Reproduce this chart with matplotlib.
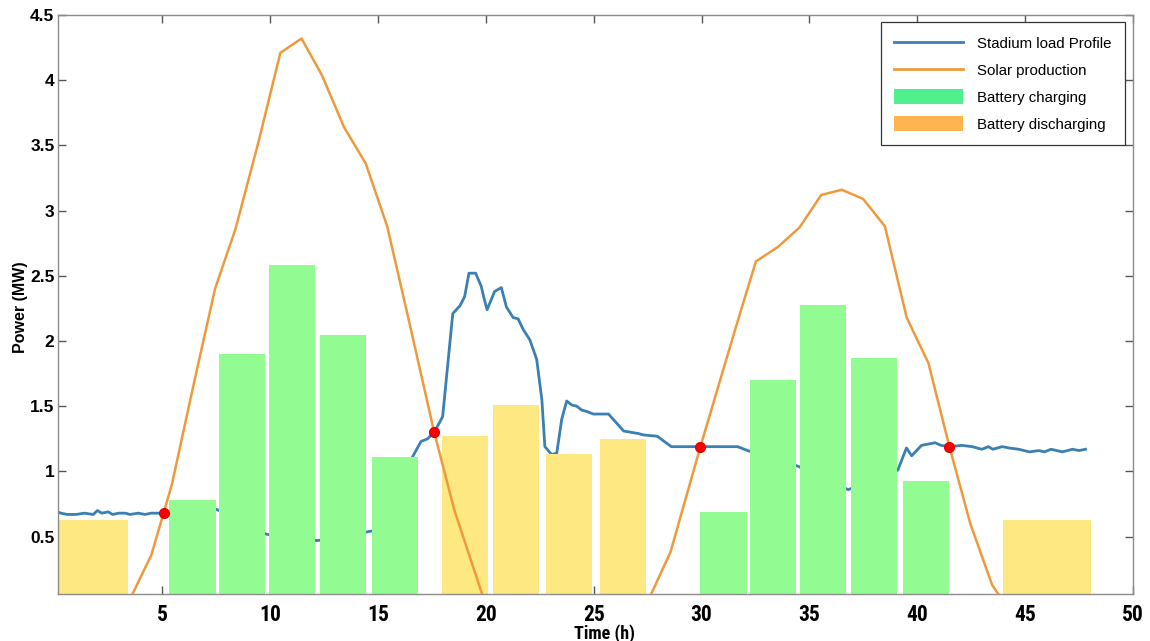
import matplotlib
matplotlib.use("Agg")
import matplotlib.pyplot as plt
from matplotlib.lines import Line2D
from matplotlib.patches import Patch

# Stadium load profile (MW) over time (h)
load_t = [0.17, 0.3, 0.6, 1.0, 1.4, 1.8, 2.0, 2.2, 2.5, 2.7, 3.0, 3.3, 3.5, 3.9, 4.2,
          4.5, 5.08, 6.0, 7.5, 8.5, 9.8, 11.0, 12.2, 13.5, 14.6, 15.5, 16.6, 17.0,
          17.3, 17.61, 18.0, 18.47, 18.8, 19.02, 19.22, 19.53, 19.79, 19.9, 20.06,
          20.41, 20.72, 20.96, 21.27, 21.5, 21.73, 22.04, 22.36, 22.6, 22.74, 23.05,
          23.29, 23.52, 23.75, 23.98, 24.22, 24.45, 24.68, 24.99, 25.69, 26.39,
          27.09, 27.3, 27.95, 28.6, 29.95, 30.74, 31.1, 31.67, 32.3, 34.47, 36.8,
          39.1, 39.5, 39.74, 40.2, 40.83, 41.1, 41.49, 42.07, 42.54, 43.0, 43.3,
          43.5, 43.94, 44.25, 44.7, 45.2, 45.64, 45.9, 46.2, 46.73, 47.2, 47.5, 47.8]
load_p = [0.69, 0.68, 0.67, 0.67, 0.68, 0.67, 0.70, 0.68, 0.69, 0.67, 0.68, 0.68,
          0.67, 0.68, 0.67, 0.68, 0.68, 0.70, 0.71, 0.64, 0.52, 0.48, 0.47, 0.50,
          0.54, 0.56, 1.11, 1.23, 1.25, 1.30, 1.42, 2.21, 2.27, 2.34, 2.52, 2.52,
          2.42, 2.34, 2.24, 2.38, 2.41, 2.26, 2.18, 2.17, 2.09, 2.01, 1.86, 1.55,
          1.19, 1.13, 1.14, 1.40, 1.54, 1.51, 1.50, 1.47, 1.46, 1.44, 1.44, 1.31,
          1.29, 1.28, 1.27, 1.19, 1.19, 1.19, 1.19, 1.19, 1.15, 1.04, 0.86, 1.01,
          1.18, 1.12, 1.20, 1.22, 1.20, 1.19, 1.20, 1.19, 1.17, 1.19, 1.17, 1.19,
          1.18, 1.17, 1.15, 1.16, 1.15, 1.17, 1.15, 1.17, 1.16, 1.17]

# Solar production (MW)
solar_t = [0.0, 3.45, 4.5, 5.45, 6.45, 7.45, 8.4, 9.47, 10.48, 11.46, 12.4, 13.43,
           14.44, 15.43, 16.46, 17.61, 18.55, 19.95, 27.5, 28.56, 29.95, 31.6,
           32.52, 33.53, 34.54, 35.55, 36.5, 37.49, 38.5, 39.51, 40.52, 41.49,
           42.46, 43.47, 44.0, 48.0]
solar_p = [0.0, 0.0, 0.36, 0.90, 1.66, 2.40, 2.86, 3.53, 4.21, 4.32, 4.04, 3.64,
           3.36, 2.88, 2.14, 1.30, 0.70, 0.0, 0.0, 0.38, 1.19, 2.11, 2.61, 2.72,
           2.87, 3.12, 3.16, 3.09, 2.88, 2.18, 1.83, 1.19, 0.60, 0.13, 0.0, 0.0]

# Battery charging blocks (centre hour, width, MW)
charge_t = [6.41, 8.69, 11.02, 13.38, 15.81, 31.02, 33.30, 35.64, 38.00, 40.42]
charge_w = [2.14] * 10
charge_p = [0.78, 1.90, 2.58, 2.05, 1.11, 0.69, 1.70, 2.28, 1.87, 0.93]

# Battery discharging blocks (centre hour, width, MW)
discharge_t = [1.82, 19.04, 21.42, 23.84, 26.36, 46.01]
discharge_w = [3.22, 2.14, 2.14, 2.14, 2.14, 4.09]
discharge_p = [0.63, 1.27, 1.51, 1.13, 1.25, 0.63]

# Load / solar crossing points
cross_t = [5.08, 17.61, 29.95, 41.49]
cross_p = [0.68, 1.30, 1.19, 1.19]

x_ticks = [5, 10, 15, 20, 25, 30, 35, 40, 45, 50]
y_ticks = [0.5, 1, 1.5, 2, 2.5, 3, 3.5, 4, 4.5]
y_ticklabels = ["0.5", "1", "1.5", "2", "2.5", "3", "3.5", "4", "4.5"]

blue = "#3A80B2"
orange = "#EE9A3C"
bar_green = "#92FC92"
bar_yellow = "#FDE882"
leg_green = "#50F08E"
leg_orange = "#FFB452"
spine_col = "#8C8C8C"

sans = ["Liberation Sans", "DejaVu Sans"]
narrow = ["Roboto Condensed", "Liberation Sans Narrow", "DejaVu Sans"]

fig = plt.figure(figsize=(11.5, 6.41), dpi=100)
ax = fig.add_axes([0.0504, 0.0733, 0.9348, 0.9033])

ax.plot(load_t, load_p, color=blue, lw=2.0, zorder=1)
ax.bar(charge_t, charge_p, width=charge_w, color=bar_green, zorder=2)
ax.bar(discharge_t, discharge_p, width=discharge_w, color=bar_yellow, zorder=2)
ax.plot(solar_t, solar_p, color=orange, lw=1.8, zorder=3)
ax.plot(cross_t, cross_p, "o", color="#FF0000", ms=7, mec="#E00000", zorder=4)

ax.set_xlim(0.17, 50)
ax.set_ylim(0.06, 4.5)
ax.set_xticks(x_ticks)
ax.set_yticks(y_ticks)
ax.set_yticklabels(y_ticklabels)

for s in ax.spines.values():
    s.set_color(spine_col)
    s.set_linewidth(1.0)
ax.tick_params(direction="in", length=6, width=1, color="#555555",
               top=True, right=True)
ax.tick_params(axis="x", pad=7)
ax.tick_params(axis="y", pad=2.5)

for lab in ax.get_xticklabels():
    lab.set_fontfamily(narrow)
    lab.set_fontstretch("condensed")
    lab.set_fontweight("bold")
    lab.set_fontsize(15.5)
for lab in ax.get_yticklabels():
    lab.set_fontfamily(sans)
    lab.set_fontweight("bold")
    lab.set_fontsize(12.5)

ax.set_xlabel("Time (h)", fontfamily=narrow, fontstretch="condensed",
              fontweight="bold", fontsize=13)
ax.xaxis.set_label_coords(0.508, -0.052)
ax.set_ylabel("Power (MW)", fontfamily=sans, fontweight="bold", fontsize=11.5)
ax.yaxis.set_label_coords(-0.028, 0.495)

handles = [
    Line2D([], [], color=blue, lw=2),
    Line2D([], [], color=orange, lw=2),
    Patch(facecolor=leg_green, edgecolor="none"),
    Patch(facecolor=leg_orange, edgecolor="none"),
]
labels = ["Stadium load Profile", "Solar production", "Battery charging",
          "Battery discharging"]
leg = ax.legend(handles, labels, loc="upper right", bbox_to_anchor=(0.9925, 0.988),
                prop={"family": sans, "size": 10.8},
                frameon=True, fancybox=False, framealpha=1, edgecolor="#333333",
                handlelength=4.6, handleheight=1.1, handletextpad=0.9,
                labelspacing=0.78, borderpad=0.9, borderaxespad=0)
leg.get_frame().set_linewidth(0.9)

fig.savefig("out.png", dpi=100)
